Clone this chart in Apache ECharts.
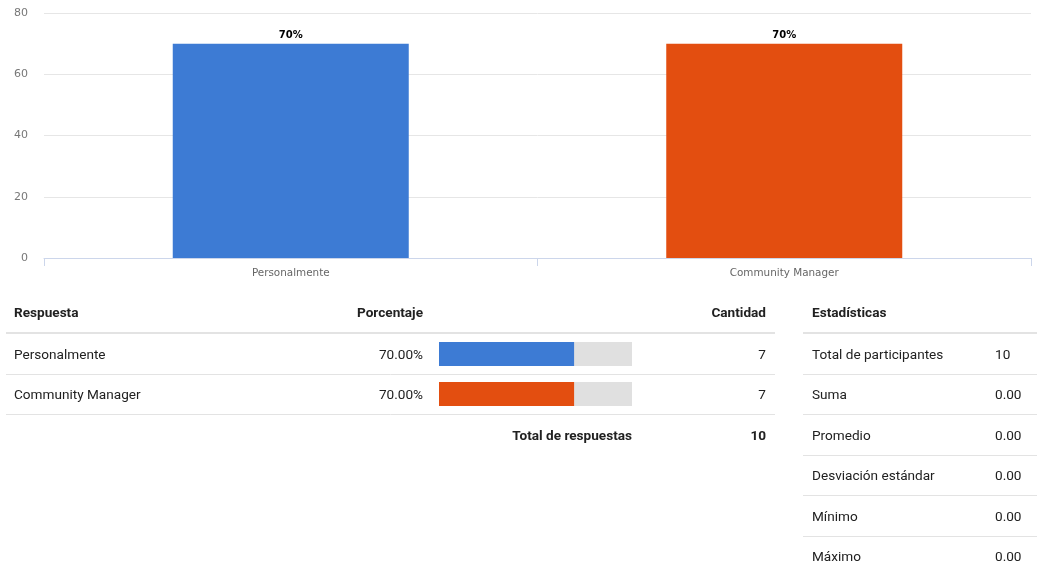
<!DOCTYPE html>
<html>
<head>
<meta charset="utf-8">
<script src="https://cdn.jsdelivr.net/npm/echarts@6/dist/echarts.min.js"></script>
<style>
html,body{margin:0;padding:0;background:#fff;}
#chart{width:1037px;height:567px;}
</style>
</head>
<body>
<div id="chart"></div>
<script>
// ---- data ----
const categories = ['Personalmente', 'Community Manager'];
const percentages = [70, 70];
const counts = [7, 7];
const barColors = ['#3d7bd4', '#e34e10'];
const totalResponses = 10;
const yMin = 0, yMax = 80, yInterval = 20;
const tableHeaders = ['Respuesta', 'Porcentaje', 'Cantidad'];
const totalLabel = 'Total de respuestas';
const statsTitle = 'Estadísticas';
const statsLabels = ['Total de participantes', 'Suma', 'Promedio', 'Desviación estándar', 'Mínimo', 'Máximo'];
const statsValues = ['10', '0.00', '0.00', '0.00', '0.00', '0.00'];

// ---- layout helpers ----
const TF = 'Roboto, "Noto Sans", sans-serif';
const lineCol = '#e3e3e3';
const headerY = 313.5, rowH = 40.4, firstRowY = 355.5;
const g = [];
function txt(x, y, s, opt) {
  opt = opt || {};
  g.push({type: 'text', x: x, y: y, silent: true, style: {
    text: s, font: (opt.bold ? 'bold ' : '') + (opt.size || 13.6) + 'px ' + TF,
    fill: opt.color || '#212121', textAlign: opt.align || 'left', textVerticalAlign: 'middle'
  }});
}
function hline(x1, x2, y, w) {
  g.push({type: 'line', silent: true, shape: {x1: x1, y1: y, x2: x2, y2: y},
    style: {stroke: lineCol, lineWidth: w || 1}});
}
// main table header
txt(14, headerY, tableHeaders[0], {bold: true});
txt(423, headerY, tableHeaders[1], {bold: true, align: 'right'});
txt(766, headerY, tableHeaders[2], {bold: true, align: 'right'});
hline(6, 775, 333, 2);
categories.forEach(function (c, i) {
  const y = firstRowY + i * rowH;
  txt(14, y, c);
  txt(423, y, percentages[i].toFixed(2) + '%', {align: 'right'});
  txt(766, y, String(counts[i]), {align: 'right'});
  hline(6, 775, 374.5 + i * 40, 1);
});
const totY = firstRowY + categories.length * rowH;
txt(632, totY, totalLabel, {bold: true, align: 'right'});
txt(766, totY, String(totalResponses), {bold: true, align: 'right'});
// stats table
txt(812, headerY, statsTitle, {bold: true});
hline(803, 1037, 333, 2);
statsLabels.forEach(function (s, i) {
  const y = firstRowY + i * rowH;
  txt(812, y, s);
  txt(995, y, statsValues[i]);
  if (i < statsLabels.length - 1) hline(803, 1037, Math.round(374 + i * 40.4) + 0.5, 1);
});

const chart = echarts.init(document.getElementById('chart'), null, {renderer: 'canvas'});
chart.setOption({
  animation: false,
  grid: [
    {left: 44, right: 6, top: 13, height: 245},
    {left: 439, width: 193, top: 334, height: 80}
  ],
  xAxis: [
    {type: 'category', gridIndex: 0, data: categories,
      axisLine: {lineStyle: {color: '#ccd6eb'}},
      axisTick: {show: true, length: 8, lineStyle: {color: '#ccd6eb'}},
      axisLabel: {color: '#666', fontSize: 10.4, margin: 10, fontFamily: '"DejaVu Sans", Verdana, sans-serif'}},
    {type: 'value', gridIndex: 1, min: 0, max: 100, show: false}
  ],
  yAxis: [
    {type: 'value', gridIndex: 0, min: yMin, max: yMax, interval: yInterval,
      axisLine: {show: false}, axisTick: {show: false},
      splitLine: {lineStyle: {color: '#e6e6e6'}},
      axisLabel: {color: '#777', fontSize: 11, margin: 16, fontFamily: '"DejaVu Sans", Verdana, sans-serif',
        verticalAlign: 'middle', padding: [2, 0, 0, 0]}},
    {type: 'category', gridIndex: 1, data: categories, inverse: true, show: false}
  ],
  series: [
    {type: 'bar', xAxisIndex: 0, yAxisIndex: 0, barWidth: 236,
      data: percentages.map(function (v, i) { return {value: v, itemStyle: {color: barColors[i]}}; }),
      label: {show: true, position: 'top', distance: 3, formatter: '{c}%',
        fontSize: 10, fontWeight: 'bold', color: '#000', fontFamily: '"DejaVu Sans", Verdana, sans-serif'}},
    {type: 'bar', xAxisIndex: 1, yAxisIndex: 1, barWidth: 24,
      showBackground: true, backgroundStyle: {color: '#e0e0e0'},
      data: percentages.map(function (v, i) { return {value: v, itemStyle: {color: barColors[i]}}; })}
  ],
  graphic: g
});
</script>
</body>
</html>
